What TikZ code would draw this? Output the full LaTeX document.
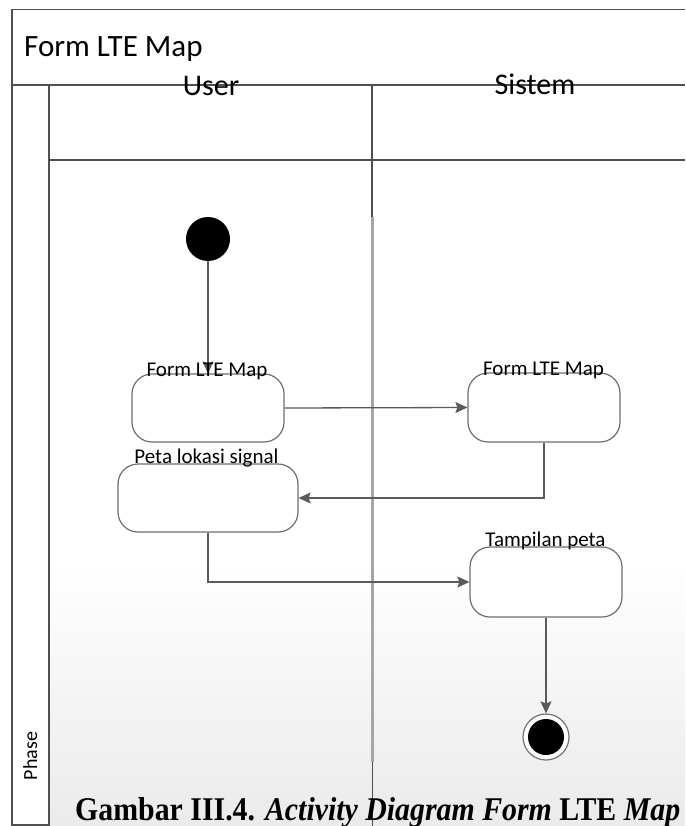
\documentclass[tikz,border=0pt]{standalone}
\usepackage{fontspec}
\setmainfont{Carlito}
\newfontfamily\capfont{Liberation Serif}
\usetikzlibrary{arrows.meta}
\definecolor{frameline}{HTML}{505050}
\definecolor{boxline}{HTML}{6E6E6E}
\definecolor{arrowline}{HTML}{5A5A5A}
\tikzset{
  frm/.style={draw=frameline, line width=1.4pt},
  act/.style={draw=boxline, line width=1.2pt, rounded corners=20pt, fill=white, inner sep=0pt},
  actlabel/.style={anchor=base, inner sep=0pt, font=\fontsize{21}{21}\selectfont},
  flow/.style={draw=arrowline, line width=1.3pt, -{Stealth[length=12pt,width=11pt,inset=2pt]}},
  lanehead/.style={anchor=base, inner sep=0pt, font=\fontsize{30}{30}\selectfont},
}
\begin{document}
\begin{tikzpicture}[x=1pt,y=-1pt]
\useasboundingbox (0,0) rectangle (685,826);
% background shading
\fill[white] (0,0) rectangle (685,826);
\shade[top color=white, bottom color=black!8] (49,560) rectangle (685,826);
% frame
\draw[frm] (685,9.5) -- (12,9.5) -- (12,826);
\draw[frm] (12,85) -- (685,85);
\draw[frm] (49,85) -- (49,826);
\draw[frm] (49,160) -- (685,160);
\draw[frm] (12,825) -- (49,825);
% lane divider
\draw[frameline, line width=1.4pt] (372,85) -- (372,217);
\draw[black!35, line width=3.5pt] (372.5,217) -- (372.5,762);
\draw[frameline, line width=1pt] (372,762) -- (372,826);
% texts of the frame
\node[anchor=base west, inner sep=0pt, font=\fontsize{31}{31}\selectfont] (title) at (24,57) {Form LTE Map};
\node[lanehead] (user) at (211,96) {User};
\node[lanehead] (sistem) at (535,95) {Sistem};
\node[anchor=base, inner sep=0pt, rotate=90, font=\fontsize{20}{20}\selectfont] (phase) at (37,756) {Phase};
% nodes
\node[circle, fill=black, minimum size=44pt, inner sep=0pt] (start) at (208,239) {};
\node[act, minimum width=152pt, minimum height=68pt] (a1) at (208,408) {};
\node[act, minimum width=152pt, minimum height=69pt] (a2) at (544,407.5) {};
\node[act, minimum width=180pt, minimum height=68pt] (a3) at (208,498) {};
\node[act, minimum width=152pt, minimum height=70pt] (a4) at (546,582) {};
\node[circle, draw=black!55, line width=1.2pt, fill=white, minimum size=46pt, inner sep=0pt] (end) at (546,737) {};
\node[circle, fill=black, minimum size=36pt, inner sep=0pt] (endin) at (546,737) {};
% connectors
\draw[flow] (start) -- (a1);
\draw[flow] (a1.east) -- (a2.west);
\draw[flow] (a2.south) |- (a3.east);
\draw[flow] (a3.south) |- (a4.west);
\draw[flow] (a4.south) -- (end.north);
% activity labels
\node[actlabel] (l1) at (207,376) {Form LTE Map};
\node[actlabel] (l2) at (543.5,375) {Form LTE Map};
\node[actlabel] (l3) at (206.5,463) {Peta lokasi signal};
\node[actlabel] (l4) at (545.5,546) {Tampilan peta};
% caption
\node[anchor=base west, inner sep=0pt] (cap) at (75,820) {\resizebox{605pt}{23pt}{\capfont\fontsize{30}{30}\selectfont\bfseries Gambar III.4. \textit{Activity Diagram Form} LTE \textit{Map}}};
\end{tikzpicture}
\end{document}
